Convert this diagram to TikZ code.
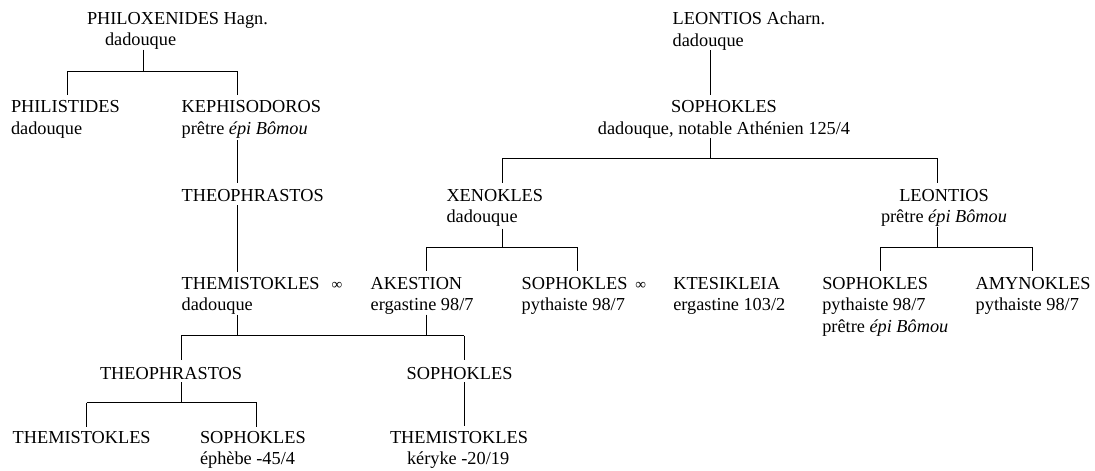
\documentclass[tikz,border=0pt]{standalone}
\usepackage{fontspec}
\setmainfont{Liberation Serif}
\usetikzlibrary{positioning}
\tikzset{
  person/.style={
    inner sep=0pt, outer sep=0pt,
    anchor=north west, align=left,
    font=\fontsize{18.3}{21.5}\selectfont
  },
  personC/.style={
    person, anchor=north, align=center
  },
  kin/.style={line width=0.8pt, color=black}
}
\newcommand{\mariage}{{\fontsize{15}{15}\selectfont ∞}}

\begin{document}
\begin{tikzpicture}[x=1pt, y=-1pt]
  \useasboundingbox (0,0) rectangle (1095,471);

    %% ---- PHILOXENIDES line -----------------------------------------
    \node[person] (philox)  at (87,12)     {PHILOXENIDES Hagn.\\\hspace*{18pt}dadouque};
    \node[person] (philist) at (11,100.5)  {PHILISTIDES\\dadouque};
    \node[person] (kephis)  at (181.7,100.5) {KEPHISODOROS\\prêtre \emph{épi Bômou}};
    \node[person] (theo1)   at (181.7,189) {THEOPHRASTOS};
    \node[person] (themi1)  at (181.7,277) {THEMISTOKLES\hspace{12pt}\mariage\\dadouque};

    \coordinate (j1)  at (143,71);
    \coordinate (j1a) at (67.7,71);
    \coordinate (j1b) at (237.3,71);
    \draw[kin] (philox.south -| j1) -- (j1);
    \draw[kin] (j1a) -- (j1b);
    \draw[kin, shorten >=5.5pt] (j1a) -- (j1a |- philist.north);
    \draw[kin, shorten >=5.5pt] (j1b) -- (j1b |- kephis.north);
    \draw[kin, shorten <=2pt, shorten >=6pt] (kephis.south -| j1b) -- (j1b |- theo1.north);
    \draw[kin, shorten <=4pt, shorten >=5.5pt] (theo1.south -| j1b) -- (j1b |- themi1.north);

    %% ---- LEONTIOS line ---------------------------------------------
    \node[person]  (leontA) at (672.7,12)  {LEONTIOS Acharn.\\dadouque};
    \node[personC] (soph1)  at (724,100.5) {SOPHOKLES\\dadouque, notable Athénien 125/4};
    \node[person]  (xeno)   at (446.5,189) {XENOKLES\\dadouque};
    \node[personC] (leont2) at (944,189)   {LEONTIOS\\prêtre \emph{épi Bômou}};

    \coordinate (j4)  at (710.7,158);
    \coordinate (j4a) at (502.3,158);
    \coordinate (j4b) at (937.7,158);
    \draw[kin, shorten >=5.5pt] (leontA.south -| j4) -- (j4 |- soph1.north);
    \draw[kin] (soph1.south -| j4) -- (j4);
    \draw[kin] (j4a) -- (j4b);
    \draw[kin, shorten >=6pt] (j4a) -- (j4a |- xeno.north);
    \draw[kin, shorten >=6pt] (j4b) -- (j4b |- leont2.north);

    %% ---- children of XENOKLES --------------------------------------
    \node[person] (akes)  at (370.7,277) {AKESTION\\ergastine 98/7};
    \node[person] (soph2) at (521.7,277) {SOPHOKLES\hspace{8pt}\mariage\\pythaiste 98/7};
    \node[person] (ktes)  at (673.3,277) {KTESIKLEIA\\ergastine 103/2};

    \coordinate (j5)  at (502.3,247.3);
    \coordinate (j5a) at (426.7,247.3);
    \coordinate (j5b) at (577.7,247.3);
    \draw[kin, shorten <=2pt] (xeno.south -| j5) -- (j5);
    \draw[kin] (j5a) -- (j5b);
    \draw[kin, shorten >=6pt] (j5a) -- (j5a |- akes.north);
    \draw[kin, shorten >=6pt] (j5b) -- (j5b |- soph2.north);

    %% ---- children of LEONTIOS --------------------------------------
    \node[person] (soph3) at (822.3,277) {SOPHOKLES\\pythaiste 98/7\\prêtre \emph{épi Bômou}};
    \node[person] (amyn)  at (975.7,277) {AMYNOKLES\\pythaiste 98/7};

    \coordinate (j6)  at (937.7,247.3);
    \coordinate (j6a) at (880,247.3);
    \coordinate (j6b) at (1032,247.3);
    \draw[kin] (leont2.south -| j6) -- (j6);
    \draw[kin] (j6a) -- (j6b);
    \draw[kin, shorten >=6pt] (j6a) -- (j6a |- soph3.north);
    \draw[kin, shorten >=6pt] (j6b) -- (j6b |- amyn.north);

    %% ---- THEMISTOKLES x AKESTION -----------------------------------
    \node[person] (theo2) at (100,367.5)   {THEOPHRASTOS};
    \node[person] (soph4) at (406.7,367.5) {SOPHOKLES};

    \coordinate (j2m) at (237.5,335.5);
    \coordinate (j2w) at (426.7,335.5);
    \coordinate (j2a) at (181,335.5);
    \coordinate (j2b) at (464.3,335.5);
    \draw[kin] (themi1.south -| j2m) -- (j2m);
    \draw[kin] (akes.south -| j2w) -- (j2w);
    \draw[kin] (j2a) -- (j2b);
    \draw[kin, shorten >=7.5pt] (j2a) -- (j2a |- theo2.north);
    \draw[kin, shorten >=7.5pt] (j2b) -- (j2b |- soph4.north);

    %% ---- last generation -------------------------------------------
    \node[person] (themi2) at (12.7,431) {THEMISTOKLES};
    \node[person] (soph5)  at (200,431)  {SOPHOKLES\\éphèbe -45/4};
    \node[person] (themi3) at (390,431)  {THEMISTOKLES\\\hspace*{17pt}kéryke -20/19};

    \coordinate (j3)  at (181,402.7);
    \coordinate (j3a) at (86.7,402.7);
    \coordinate (j3b) at (256.7,402.7);
    \draw[kin, shorten <=2.5pt] (theo2.south -| j3) -- (j3);
    \draw[kin] (j3a) -- (j3b);
    \draw[kin, shorten >=4.5pt] (j3a) -- (j3a |- themi2.north);
    \draw[kin, shorten >=4.5pt] (j3b) -- (j3b |- soph5.north);
    \draw[kin, shorten <=2.5pt, shorten >=5pt] (soph4.south -| j2b) -- (j2b |- themi3.north);

\end{tikzpicture}
\end{document}
